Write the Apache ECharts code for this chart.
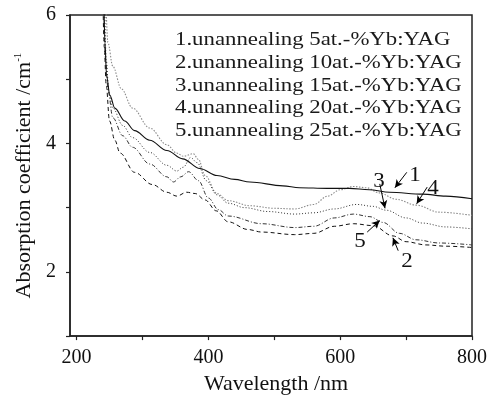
<!DOCTYPE html>
<html>
<head>
<meta charset="utf-8">
<script src="https://cdn.jsdelivr.net/npm/echarts@6/dist/echarts.min.js"></script>
<style>html,body{margin:0;padding:0;background:#fff}#c{width:496px;height:400px}</style>
</head>
<body>
<div id="c"></div>
<script>
// Data (wavelength nm, absorption coefficient cm^-1)
const seriesNames = [
  '1.unannealing 5at.-%Yb:YAG',
  '2.unannealing 10at.-%Yb:YAG',
  '3.unannealing 15at.-%Yb:YAG',
  '4.unannealing 20at.-%Yb:YAG',
  '5.unannealing 25at.-%Yb:YAG'
];
const curve1 = [[241.5,6.2],[243,5.57],[245.5,5.05],[250.5,4.75],[258,4.55],[273,4.35],[288,4.2],[311,4.05],[337,3.89],[361,3.76],[387,3.61],[413,3.50],[440,3.44],[463,3.40],[513,3.34],[538,3.31],[580,3.30],[614,3.30],[644,3.28],[675,3.24],[725,3.21],[760,3.18],[800,3.14]];
const curve2 = [[240,6.2],[242,5.5],[245,4.9],[250,4.35],[258,4.05],[266,3.85],[288,3.55],[315,3.36],[337,3.24],[352,3.18],[367,3.24],[380,3.22],[395,3.12],[412,2.95],[430,2.78],[460,2.66],[481,2.62],[531,2.58],[560,2.60],[591,2.71],[620,2.75],[650,2.72],[680,2.56],[700,2.47],[730,2.42],[760,2.40],[800,2.38]];
const curve3 = [[242.5,6.2],[245,5.3],[249,4.8],[255,4.55],[270,4.28],[285,4.09],[311,3.86],[337,3.66],[352,3.57],[362,3.63],[373,3.78],[383,3.70],[397,3.42],[413,3.20],[430,3.07],[455,3.00],[490,2.94],[531,2.90],[560,2.92],[591,2.98],[625,3.05],[650,3.02],[670,2.96],[700,2.84],[725,2.76],[760,2.70],[800,2.67]];
const curve4 = [[244.5,6.2],[247.5,5.57],[255,5.2],[268,4.85],[285,4.55],[311,4.24],[337,3.98],[352,3.85],[362,3.80],[377,3.84],[385,3.75],[395,3.50],[413,3.22],[430,3.11],[463,3.03],[500,2.99],[531,2.98],[560,3.05],[581,3.18],[600,3.28],[620,3.33],[640,3.31],[659,3.23],[685,3.13],[715,3.04],[750,2.93],[800,2.88]];
const curve5 = [[241,6.2],[244,5.3],[248,4.8],[255,4.4],[270,4.12],[285,3.94],[311,3.68],[337,3.48],[347,3.40],[358,3.48],[370,3.56],[385,3.42],[400,3.15],[415,2.97],[430,2.87],[481,2.75],[531,2.69],[560,2.71],[591,2.84],[620,2.90],[645,2.86],[665,2.77],[690,2.60],[715,2.50],[750,2.45],[800,2.42]];
const xTicks = [200,300,400,500,600,700,800];
const xLabels = [200,400,600,800];
const yTicks = [1,2,3,4,5,6];
const yLabels = [2,4,6];
// annotation arrows (data coordinates): [from, to]
const arrows = [
  [[701,3.55],[683,3.31]],
  [[660,3.37],[668,2.99]],
  [[732,3.32],[716,3.06]],
  [[641,2.62],[660,2.80]],
  [[688,2.33],[680,2.53]]
];

const FONT = '"Liberation Serif","Times New Roman",serif';
const chart = echarts.init(document.getElementById('c'), null, {renderer:'canvas'});

const styles = [
  {color:'#111', type:'solid', width:1.1},
  {color:'#111', type:[4,3], width:1},
  {color:'#333', type:[1,2], width:1},
  {color:'#8a8a8a', type:[1.5,1.5], width:1.1},
  {color:'#333', type:[4,2,1,2], width:1}
];
const curves = [curve1, curve2, curve3, curve4, curve5];

const series = curves.map((d,i)=>({
  name: seriesNames[i],
  type:'line',
  data:d,
  showSymbol:false,
  smooth:0.35,
  smoothMonotone:'x',
  clip:true,
  silent:true,
  animation:false,
  lineStyle:styles[i],
  z: 5 - i
}));
series[0].markLine = {
  silent:true,
  animation:false,
  symbol:['none','arrow'],
  symbolSize:[6,8],
  label:{show:false},
  lineStyle:{color:'#000', type:'solid', width:1},
  data: arrows.map(a=>[{coord:a[0]},{coord:a[1]}])
};

const legendTops = [40,63,86,108,131];
const graphics = seriesNames.map((t,i)=>({
  type:'text',
  x:175, y:legendTops[i],
  scaleX:1.2,
  style:{text:t, x:0, y:0, font:'19px '+FONT, fill:'#1a1a1a', textAlign:'left', textVerticalAlign:'middle', verticalAlign:'middle'}
}));
const numLabels = [['1',415,176],['3',379,182],['4',433,189],['5',360,242],['2',407,262]];
numLabels.forEach(n=>graphics.push({
  type:'text', x:n[1], y:n[2], scaleX:1.15,
  style:{text:n[0], x:0, y:0, font:'20px '+FONT, fill:'#111', textAlign:'center', textVerticalAlign:'middle', verticalAlign:'middle'}
}));

chart.setOption({
  backgroundColor:'#fff',
  animation:false,
  grid:{left:70, right:24, top:15, bottom:58, show:true, borderColor:'#222', borderWidth:1.5, backgroundColor:'transparent'},
  xAxis:{
    type:'value', min:190, max:800,
    name:'Wavelength /nm', nameLocation:'middle', nameGap:33,
    nameTextStyle:{fontFamily:FONT, fontSize:22, color:'#111', padding:[0,0,0,10]},
    axisLine:{show:true, lineStyle:{color:'#222', width:1.5}},
    axisTick:{show:true, inside:false, length:4, customValues:xTicks, lineStyle:{color:'#222', width:1.2}},
    axisLabel:{customValues:xLabels, margin:12, fontFamily:FONT, fontSize:20, color:'#111'},
    splitLine:{show:false}
  },
  yAxis:{
    type:'value', min:1, max:6,
    name:'Absorption coefficient /cm{sup|-1}', nameLocation:'middle', nameGap:32, nameRotate:90,
    nameTextStyle:{fontFamily:FONT, fontSize:22, color:'#111',
      rich:{sup:{fontFamily:FONT, fontSize:11, color:'#111', verticalAlign:'top', padding:[0,0,10,0]}}},
    axisLine:{show:true, lineStyle:{color:'#222', width:1.5}},
    axisTick:{show:true, inside:false, length:4, customValues:yTicks, lineStyle:{color:'#222', width:1.2}},
    axisLabel:{customValues:yLabels, margin:14, fontFamily:FONT, fontSize:20, color:'#111'},
    splitLine:{show:false}
  },
  series:series,
  graphic:graphics
});
</script>
</body>
</html>
